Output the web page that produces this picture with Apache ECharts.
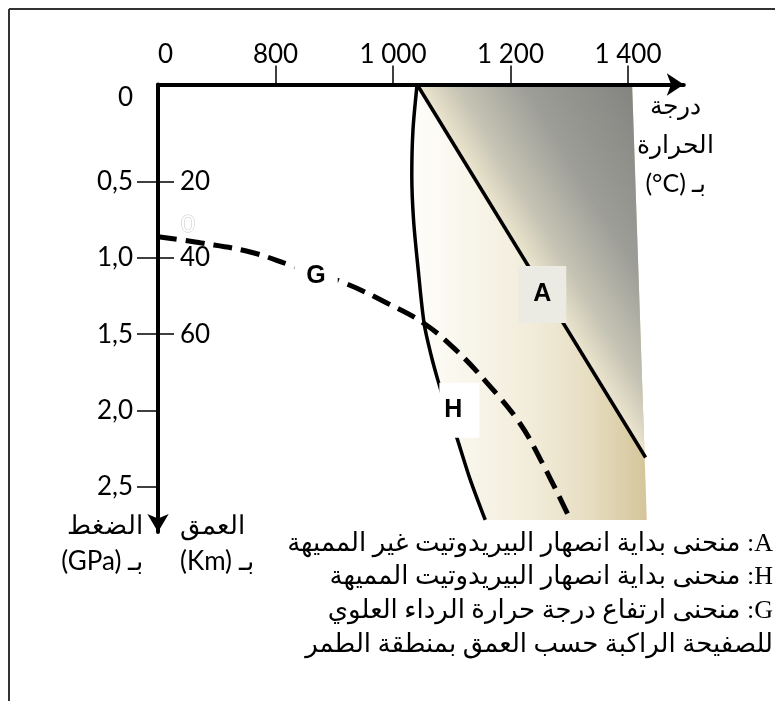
<!DOCTYPE html>
<html>
<head>
<meta charset="utf-8">
<script src="https://cdn.jsdelivr.net/npm/echarts@6/dist/echarts.min.js"></script>
<style>
  html, body { margin: 0; padding: 0; background: #fff; }
  #chart-container { width: 775px; height: 701px; }
</style>
</head>
<body>
<div id="chart-container"></div>
<script>
// Axis extents (temperature axis is broken: its origin is labelled 0)
const TMIN = 600, TMAX = 1495;
const PMIN = -0.14, PMAX = 2.8;

// Tick values and labels
const tempTicks = [800, 1000, 1200, 1400];
const tempLabelVals = [600, 800, 1000, 1200, 1400];
const tempLabels = ['0', '800', '1 000', '1 200', '1 400'];
const presTicks = [0.5, 1, 1.5, 2, 2.5];
const presLabelVals = [PMIN, 0.5, 1, 1.5, 2, 2.5];
const presLabels = ['0', '0,5', '1,0', '1,5', '2,0', '2,5'];
const depthTicks = [20, 40, 60];

// Curve H (hydrated peridotite solidus): temperature °C, pressure GPa
const hT = [1041, 1034, 1032, 1035, 1043, 1053, 1065, 1077, 1092, 1107, 1131, 1157];
const hP = [PMIN, 0.16, 0.46, 0.75, 1.08, 1.43, 1.64, 1.81, 2.00, 2.16, 2.45, 2.72];

// Curve A (dry peridotite solidus)
const aT = [1041, 1430];
const aP = [PMIN, 2.31];

// Curve G (geotherm of the overriding plate)
const gT = [600, 672, 757, 828, 915, 992, 1053, 1106, 1160, 1215, 1252, 1301];
const gP = [0.86, 0.90, 0.96, 1.05, 1.16, 1.30, 1.43, 1.60, 1.82, 2.08, 2.33, 2.71];

// Right edge of the shaded field
const edgeT = [1407, 1432];
const edgeP = [PMIN, 2.72];

// Curve name tags
const tagNames = ['A', 'H', 'G'];
const tagT = [1254, 1113, 869];
const tagP = [1.24, 2.0, 1.12];

const legendLines = [
  'منحنى بداية انصهار البيريدوتيت غير المميهة :A',
  'منحنى بداية انصهار البيريدوتيت المميهة :H',
  'منحنى ارتفاع درجة حرارة الرداء العلوي :G',
  'للصفيحة الراكبة حسب العمق بمنطقة الطمر'
];

const NUM_FONT = 'Lato';
const chartContainer = document.getElementById('chart-container');
const myChart = echarts.init(chartContainer);

function pairs(xs, ys) {
  return xs.map((x, i) => [x, ys[i]]);
}

function pickLabel(vals, labels, v) {
  const i = vals.findIndex(x => Math.abs(x - v) < 1e-6);
  return i < 0 ? '' : labels[i];
}

// shaded field between curve H and the right edge
function renderBase(params, api) {
  const pts = hT.map((t, i) => api.coord([t, hP[i]]));
  const eb = api.coord([edgeT[1], edgeP[1]]);
  const et = api.coord([edgeT[0], edgeP[0]]);
  pts.push(eb, et);
  const x0 = Math.min.apply(null, pts.map(p => p[0]));
  return {
    type: 'polygon',
    shape: { points: pts },
    style: {
      fill: new echarts.graphic.LinearGradient(x0, 0, eb[0], 0, [
        { offset: 0, color: '#fefefb' },
        { offset: 0.25, color: '#f8f5ea' },
        { offset: 0.5, color: '#f2ecda' },
        { offset: 0.75, color: '#e7dec2' },
        { offset: 1, color: '#d4c59a' }
      ], true)
    }
  };
}

// darker field right of curve A
function renderDry(params, api) {
  const a0 = api.coord([aT[0], aP[0]]);
  const a1 = api.coord([aT[1], aP[1]]);
  const e0 = api.coord([edgeT[0], edgeP[0]]);
  const e1 = api.coord([edgeT[1], edgeP[1]]);
  const k = (a1[1] - e0[1]) / (e1[1] - e0[1]);
  const ex = e0[0] + k * (e1[0] - e0[0]);
  const dx = a1[0] - a0[0], dy = a1[1] - a0[1];
  const len = Math.sqrt(dx * dx + dy * dy);
  const nx = dy / len, ny = -dx / len;
  return {
    type: 'polygon',
    shape: { points: [a0, a1, [ex, a1[1]], e0] },
    style: {
      fill: new echarts.graphic.LinearGradient(a0[0], a0[1], a0[0] + nx * 180, a0[1] + ny * 180, [
        { offset: 0, color: '#ebe6d2' },
        { offset: 0.04, color: '#e4dec8' },
        { offset: 0.18, color: '#c6c4b4' },
        { offset: 0.5, color: '#9e9e98' },
        { offset: 1, color: '#848481' }
      ], true)
    }
  };
}

const tagStyles = {
  A: { backgroundColor: '#ecebe3', padding: [16, 15, 16, 15] },
  H: { backgroundColor: '#ffffff', padding: [15, 17, 15, 5] },
  G: { backgroundColor: '#ffffff', padding: [4, 12, 4, 12] }
};

const option = {
  animation: false,
  backgroundColor: '#fff',
  grid: { left: 158, top: 84.5, width: 525.8, height: 447.6, containLabel: false },
  xAxis: {
    type: 'value',
    position: 'top',
    min: TMIN,
    max: TMAX,
    z: 10,
    splitLine: { show: false },
    axisLine: {
      show: true, onZero: false,
      symbol: ['none', 'arrow'], symbolSize: [17, 17],
      lineStyle: { color: '#000', width: 4 }
    },
    axisTick: {
      show: true, customValues: tempTicks, length: 19,
      lineStyle: { color: '#000', width: 1.5 }
    },
    axisLabel: {
      customValues: tempLabelVals,
      formatter: v => pickLabel(tempLabelVals, tempLabels, v),
      margin: 17, color: '#000', fontSize: 26, fontFamily: NUM_FONT,
      alignMinLabel: 'left'
    },
    name: 'درجة\nالحرارة\n(°C) بـ',
    nameLocation: 'end',
    nameGap: -8,
    nameTextStyle: {
      align: 'center', verticalAlign: 'top', color: '#000',
      fontSize: 25, lineHeight: 39, fontFamily: NUM_FONT, padding: [2, 0, 0, 0]
    }
  },
  yAxis: [
    {
      type: 'value',
      position: 'left',
      inverse: true,
      min: PMIN,
      max: PMAX,
      z: 10,
      splitLine: { show: false },
      axisLine: {
        show: true, onZero: false,
        symbol: ['arrow', 'none'], symbolSize: [16, 18],
        lineStyle: { color: '#000', width: 4 }
      },
      axisTick: {
        show: true, customValues: presTicks, length: 21,
        lineStyle: { color: '#000', width: 1.5 }
      },
      axisLabel: {
        customValues: presLabelVals,
        formatter: v => pickLabel(presLabelVals, presLabels, v),
        margin: 25, color: '#000', fontSize: 26, fontFamily: NUM_FONT,
        verticalAlignMinLabel: 'top'
      },
      name: 'الضغط\n(GPa) بـ',
      nameLocation: 'end',
      nameGap: -24,
      nameTextStyle: {
        align: 'right', verticalAlign: 'top', color: '#000',
        fontSize: 26, lineHeight: 36, fontFamily: NUM_FONT, padding: [0, 15, 0, 0]
      }
    },
    {
      type: 'value',
      position: 'left',
      offset: 0,
      inverse: true,
      min: PMIN * 40,
      max: PMAX * 40,
      z: 10,
      splitLine: { show: false },
      axisLine: { show: false },
      axisTick: {
        show: true, inside: true, customValues: depthTicks, length: 16,
        lineStyle: { color: '#000', width: 1.5 }
      },
      axisLabel: {
        inside: true, customValues: depthTicks,
        margin: 22, color: '#000', fontSize: 26, fontFamily: NUM_FONT
      },
      name: 'العمق\n(Km) بـ',
      nameLocation: 'end',
      nameGap: -24,
      nameTextStyle: {
        align: 'left', verticalAlign: 'top', color: '#000',
        fontSize: 26, lineHeight: 36, fontFamily: NUM_FONT, padding: [0, 0, 0, 22]
      }
    }
  ],
  series: [
    {
      name: 'field', type: 'custom', coordinateSystem: 'cartesian2d',
      renderItem: renderBase, data: [[TMIN, 0]], clip: false, z: 1, silent: true
    },
    {
      name: 'dry field', type: 'custom', coordinateSystem: 'cartesian2d',
      renderItem: renderDry, data: [[TMIN, 0]], clip: false, z: 2, silent: true
    },
    {
      name: 'H', type: 'line', data: pairs(hT, hP), smooth: 0.3,
      showSymbol: false, z: 4,
      lineStyle: { color: '#000', width: 3.5 }
    },
    {
      name: 'A', type: 'line', data: pairs(aT, aP),
      showSymbol: false, z: 4,
      lineStyle: { color: '#000', width: 3.5 }
    },
    {
      name: 'G', type: 'line', data: pairs(gT, gP), smooth: 0.4,
      showSymbol: false, z: 4,
      lineStyle: { color: '#000', width: 5, type: [19, 9] }
    },
    {
      name: 'tags', type: 'scatter', symbolSize: 0, z: 6, silent: true,
      itemStyle: { opacity: 1 },
      data: tagNames.map((n, i) => ({
        value: [tagT[i], tagP[i]],
        label: Object.assign({
          show: true, position: 'inside', formatter: n,
          color: '#000', fontSize: 25, fontWeight: 'bold', fontFamily: 'Liberation Sans'
        }, tagStyles[n])
      }))
    }
  ],
  graphic: [
    { type: 'line', shape: { x1: 9, y1: 9, x2: 775, y2: 9 }, style: { stroke: '#333', lineWidth: 2 } },
    { type: 'line', shape: { x1: 9, y1: 9, x2: 9, y2: 701 }, style: { stroke: '#333', lineWidth: 2 } },
    {
      type: 'text', x: 188, y: 224,
      style: { text: '0', font: '24px Lato', fill: '#fff', stroke: '#c8c8c8', lineWidth: 1, align: 'center', verticalAlign: 'middle' }
    },
    {
      type: 'text', x: 773, y: 527,
      style: {
        text: legendLines.join('\n'), font: '26px "Liberation Serif", "DejaVu Sans"',
        fill: '#000', align: 'right', verticalAlign: 'top', lineHeight: 33.7
      }
    }
  ]
};

myChart.setOption(option);
</script>
</body>
</html>
